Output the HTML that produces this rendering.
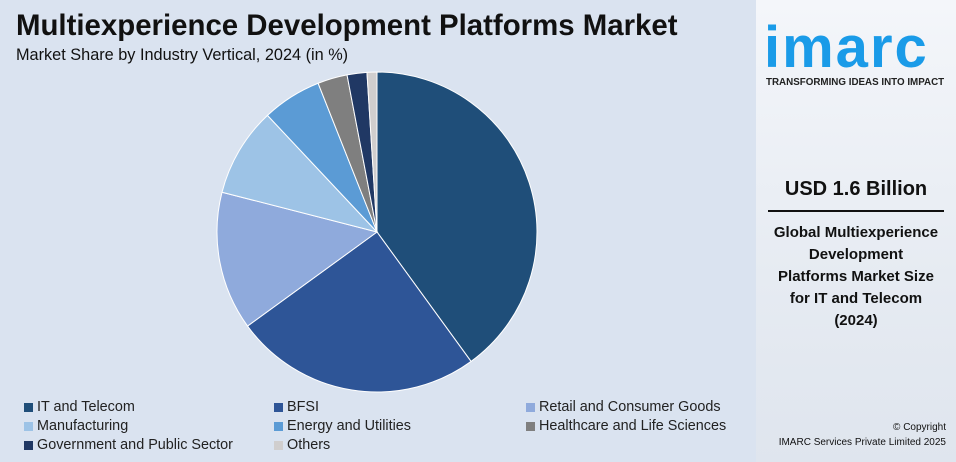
<!DOCTYPE html>
<html><head><meta charset="utf-8"><style>
body{margin:0;width:956px;height:462px;overflow:hidden;font-family:"Liberation Sans",sans-serif;background:#dae3f0;position:relative}
#left{position:absolute;left:0;top:0;width:756px;height:462px;background:#dae3f0}
#right{position:absolute;left:756px;top:0;width:200px;height:462px;background:linear-gradient(180deg,#f4f6fa,#e6ebf2 60%,#dfe5ee)}
h1{position:absolute;left:16px;top:9px;margin:0;font-size:29.4px;font-weight:bold;color:#111;white-space:nowrap}
.sub{position:absolute;left:16px;top:46px;font-size:16.3px;color:#111}
.leg{position:absolute;font-size:14.4px;color:#222;display:flex;align-items:center}
.leg i{display:inline-block;width:9px;height:9px;margin-right:4px}
</style></head><body>
<div id="left">
<h1>Multiexperience Development Platforms Market</h1>
<div class="sub">Market Share by Industry Vertical, 2024 (in %)</div>
<svg id="pie" width="756" height="462" style="position:absolute;left:0;top:0"></svg>
<div id="legend"></div>
</div>
<div id="right">
<div style="position:absolute;left:8px;top:14px;font-size:58px;font-weight:bold;color:#1a9be8;letter-spacing:2px">imarc</div>
<div style="position:absolute;left:10px;top:77px;font-size:9.8px;font-weight:bold;color:#222">TRANSFORMING IDEAS INTO IMPACT</div>
<div style="position:absolute;left:0;width:200px;top:178px;text-align:center;font-size:20px;font-weight:bold;color:#111">USD 1.6 Billion</div>
<div style="position:absolute;left:12px;width:176px;top:210px;height:2px;background:#111"></div>
<div style="position:absolute;left:0;width:200px;top:222px;text-align:center;font-size:15px;font-weight:bold;color:#111;line-height:22px">Global Multiexperience<br>Development<br>Platforms Market Size<br>for IT and Telecom<br>(2024)</div>
<div style="position:absolute;left:0;width:190px;top:420px;text-align:right;font-size:10px;color:#111;line-height:15px">© Copyright<br>IMARC Services Private Limited 2025</div>
</div>
<script>
const categories=["IT and Telecom","BFSI","Retail and Consumer Goods","Manufacturing","Energy and Utilities","Healthcare and Life Sciences","Government and Public Sector","Others"];
const values=[40,25,14,9,6,3,2,1];
const colors=["#1f4e79","#2e5597","#8faadc","#9dc3e6","#5b9bd5","#7f7f7f","#203864","#d0cece"];
const svg=document.getElementById('pie');
const cx=377,cy=232,r=160;
const total=values.reduce((a,b)=>a+b,0);
let a0=0;
function pt(a){return [cx+r*Math.sin(a),cy-r*Math.cos(a)];}
values.forEach((v,i)=>{
 const a1=a0+v/total*2*Math.PI;
 const p0=pt(a0),p1=pt(a1);
 const p=document.createElementNS("http://www.w3.org/2000/svg","path");
 p.setAttribute('d',`M${cx},${cy}L${p0[0]},${p0[1]}A${r},${r} 0 ${a1-a0>Math.PI?1:0} 1 ${p1[0]},${p1[1]}Z`);
 p.setAttribute('fill',colors[i]);p.setAttribute('stroke','#fff');p.setAttribute('stroke-width','1');
 
 
 svg.appendChild(p);a0=a1;
});
const lg=document.getElementById('legend');
const xs=[24,274,526],ys=[399,418,437];
categories.forEach((c,i)=>{
 const d=document.createElement('div');d.className='leg';
 d.style.left=xs[i%3]+'px';d.style.top=ys[Math.floor(i/3)]+'px';
 d.innerHTML=`<i style="background:${colors[i]}"></i>${c}`;
 
 
 lg.appendChild(d);
});
</script>
</body></html>
